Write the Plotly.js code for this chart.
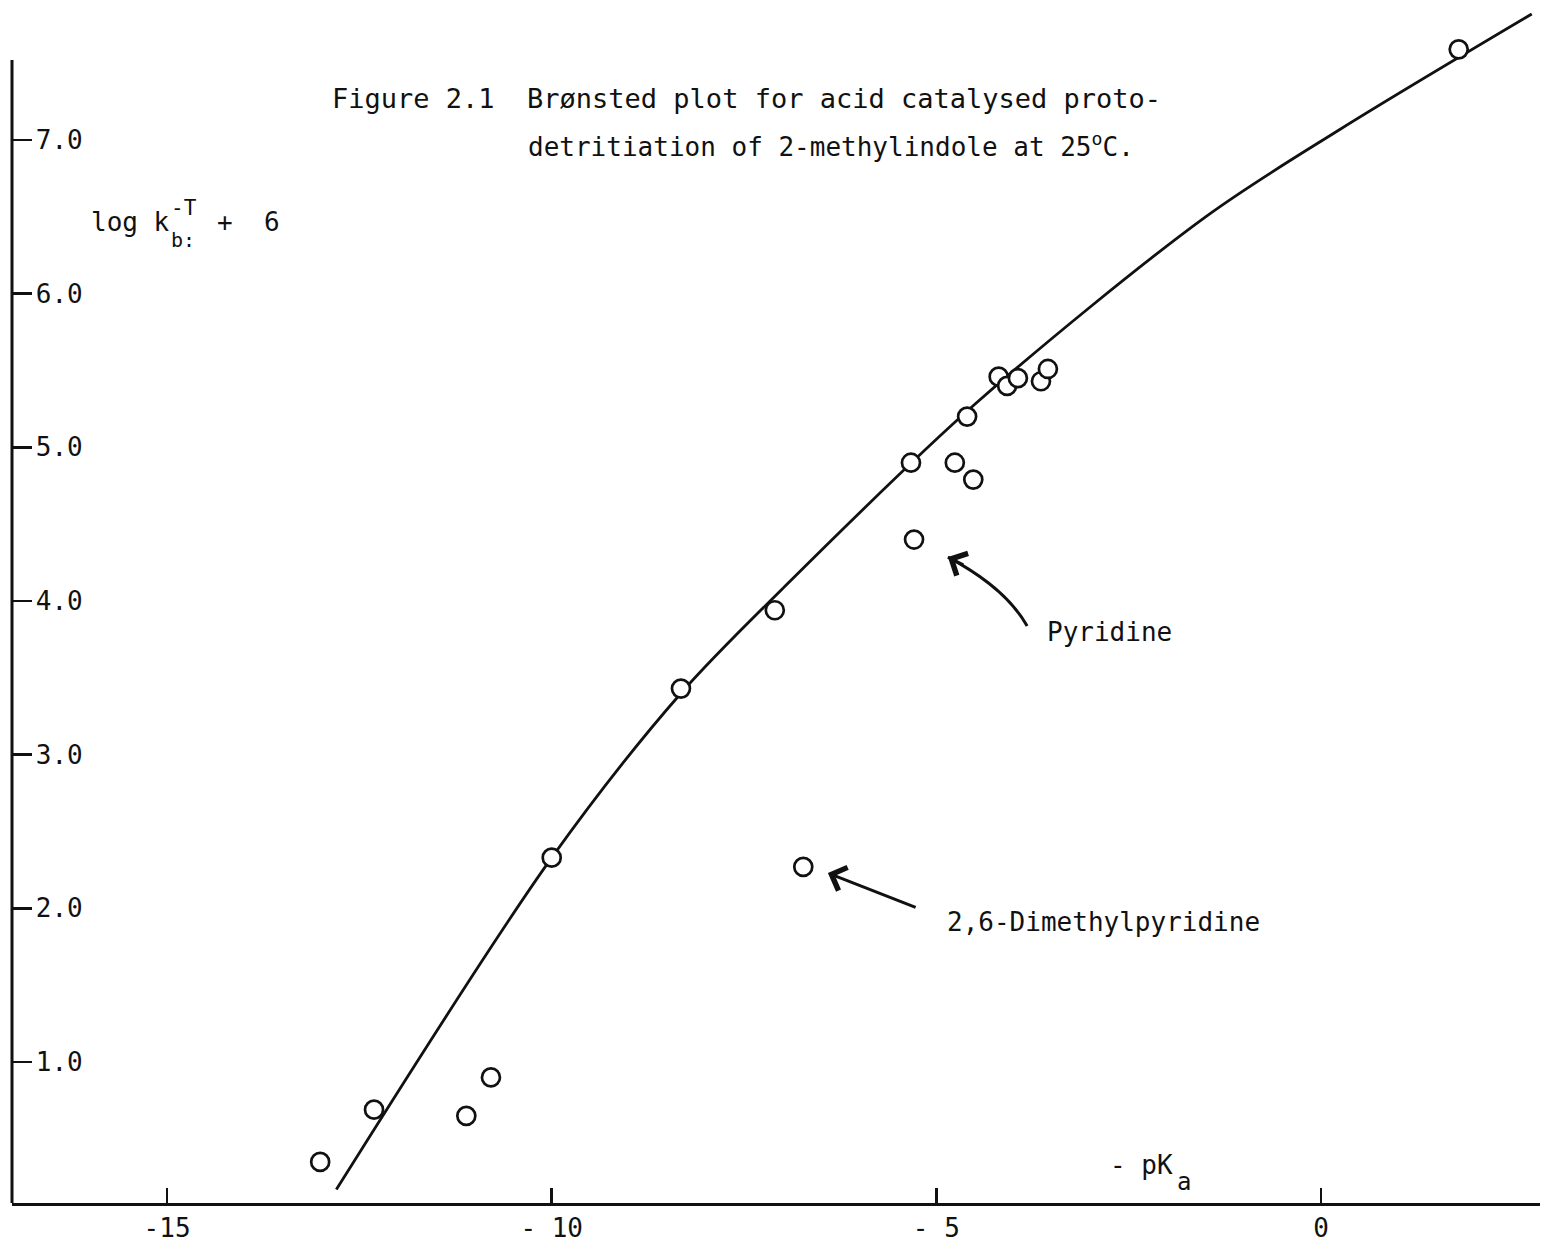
<!DOCTYPE html>
<html>
<head>
<meta charset="utf-8">
<script src="https://cdn.plot.ly/plotly-3.0.1.min.js"></script>
<style>html,body{margin:0;padding:0;background:#fff}#chart{width:1552px;height:1246px}</style>
</head>
<body>
<div id="chart"></div>
<script>
// Measured points: -pKa (x) vs log k + 6 (y)
const pointX = [-13.01, -12.31, -11.11, -10.79, -10.00, -8.32, -7.10, -6.73, -5.33, -5.29, -4.76, -4.52, -4.60, -4.19, -4.08, -3.94, -3.64, -3.55, 1.79];
const pointY = [0.35, 0.69, 0.65, 0.90, 2.33, 3.43, 3.94, 2.27, 4.90, 4.40, 4.90, 4.79, 5.20, 5.46, 5.40, 5.45, 5.43, 5.51, 7.59];

// Hand-drawn Brønsted curve
const curveX = [-12.80, -10.00, -8.32, -7.00, -4.50, -1.50, 0.25, 2.74];
const curveY = [0.17, 2.33, 3.40, 4.08, 5.28, 6.50, 7.07, 7.82];

// Axis ticks
const xTickVals = [-15, -10, -5, 0];
const xTickText = ["-15", "- 10", "- 5", "0"];
const yTickVals = [1, 2, 3, 4, 5, 6, 7];
const yTickText = ["1.0", "2.0", "3.0", "4.0", "5.0", "6.0", "7.0"];

const FONT = "DejaVu Sans Mono, monospace";
const INK = "#111";

const traces = [
  {
    x: curveX, y: curveY, type: "scatter", mode: "lines",
    line: {color: INK, width: 2.8, shape: "spline", smoothing: 0.9},
    hoverinfo: "skip", showlegend: false
  },
  {
    x: pointX, y: pointY, type: "scatter", mode: "markers",
    marker: {symbol: "circle", size: 18, color: "rgba(255,255,255,1)", line: {color: INK, width: 2.7}},
    showlegend: false, cliponaxis: false
  }
];

const ann = (x, y, text, size, extra) => Object.assign({
  x: x, y: y, xref: "x", yref: "y", text: text, showarrow: false,
  xanchor: "left", yanchor: "middle", font: {family: FONT, size: size || 26, color: INK}
}, extra || {});

const layout = {
  width: 1552, height: 1246,
  margin: {l: 12, r: 12, t: 0, b: 43, pad: 0},
  paper_bgcolor: "#fff", plot_bgcolor: "#fff",
  font: {family: FONT, size: 26, color: INK},
  showlegend: false,
  xaxis: {
    range: [-17.016, 2.847], showgrid: false, zeroline: false,
    showline: true, linecolor: INK, linewidth: 3,
    ticks: "inside", ticklen: 15, tickwidth: 2.5, tickcolor: INK,
    tickvals: xTickVals, ticktext: xTickText,
    tickfont: {family: FONT, size: 26, color: INK}
  },
  yaxis: {
    range: [0.0827, 7.911], showgrid: false, zeroline: false, showline: false,
    ticks: "inside", ticklen: 20, tickwidth: 2.5, tickcolor: INK,
    tickvals: yTickVals, ticktext: yTickText,
    ticklabelposition: "inside", ticklabelstandoff: 6,
    tickfont: {family: FONT, size: 26, color: INK}
  },
  shapes: [
    {type: "line", xref: "paper", yref: "y", x0: 0, x1: 0, y0: 0.0827, y1: 7.52,
     line: {color: INK, width: 3}},
    {type: "path", xref: "x", yref: "y",
     path: "M -3.82,3.837 Q -4.095,4.085 -4.85,4.286",
     line: {color: INK, width: 3}}
  ],
  annotations: [
    ann(-12.88, 7.273, "Figure 2.1  Brønsted plot for acid catalysed proto-", 27),
    ann(-10.33, 6.967, "detritiation of 2-methylindole at 25<sup>o</sup>C.", 26),
    ann(-16.01, 6.466, "log k"),
    ann(-14.98, 6.56, "-T", 21),
    ann(-14.98, 6.35, "b:", 20),
    ann(-14.38, 6.466, "+  6"),
    ann(-3.59, 3.80, "Pyridine"),
    ann(-4.89, 1.911, "2,6-Dimethylpyridine"),
    ann(-2.77, 0.33, "- pK", 26),
    ann(-1.90, 0.22, "a", 24),
    {x: -6.41, y: 2.230, ax: -5.25, ay: 2.002, xref: "x", yref: "y", axref: "x", ayref: "y",
     text: "", showarrow: true, arrowhead: 4, arrowsize: 1.6, arrowwidth: 3, arrowcolor: INK},
    {x: -4.85, y: 4.286, ax: -4.63, ay: 4.23, xref: "x", yref: "y", axref: "x", ayref: "y",
     text: "", showarrow: true, arrowhead: 4, arrowsize: 1.6, arrowwidth: 3, arrowcolor: INK}
  ]
};

Plotly.newPlot("chart", traces, layout, {displayModeBar: false, staticPlot: true});
</script>
</body>
</html>
